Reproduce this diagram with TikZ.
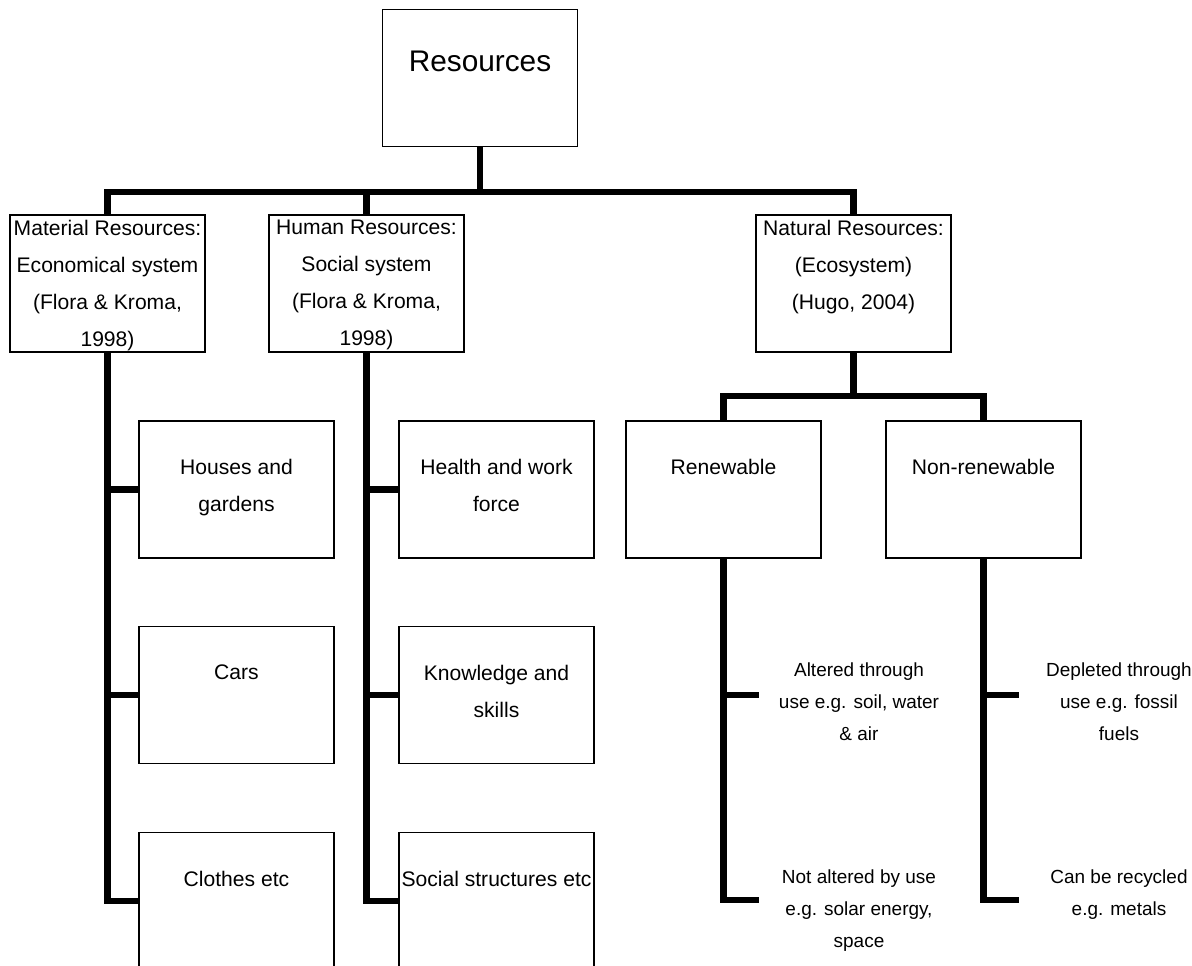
\documentclass[tikz,border=0pt]{standalone}
\usepackage{fontspec}
\setmainfont{Liberation Sans}
\usepackage{tikz}
\usepackage{xcolor}

\newcommand{\boxfont}{\fontsize{15}{26.3}\selectfont}
\newcommand{\leaffont}{\fontsize{13.5}{22.8}\selectfont}
\newcommand{\bigfont}{\fontsize{21.2}{25}\selectfont}

\tikzset{
  box/.style={draw, line width=1.2pt, minimum width=4.875cm, minimum height=3.425cm, inner sep=0pt},
  link/.style={line width=4.3pt},
  intext/.style={align=center, anchor=north, inner sep=0pt, font=\boxfont},
  leaf/.style={align=center, anchor=north, inner sep=0pt, font=\leaffont},
}

\begin{document}
\begin{tikzpicture}[x=0.025cm,y=-0.025cm]
\useasboundingbox (0,0) rectangle (1192,966);
\node[box, label={[intext, font=\bigfont, yshift=-1.04cm]north:Resources}] (res) at (480,78) {};
\node[box, label={[intext, yshift=-0.15cm]north:Material Resources:\\Economical system\\(Flora \& Kroma,\\1998)}] (mat) at (107.5,283.5) {};
\node[box, label={[intext, yshift=-0.15cm]north:Human Resources:\\Social system\\(Flora \& Kroma,\\1998)}] (hum) at (366.5,283.5) {};
\node[box, label={[intext, yshift=-0.15cm]north:Natural Resources:\\(Ecosystem)\\(Hugo, 2004)}] (nat) at (853.5,283.5) {};
\node[box, label={[intext, yshift=-0.975cm]north:Houses and\\gardens}] (houses) at (236.5,489.5) {};
\node[box, label={[intext, yshift=-0.975cm]north:Cars}] (cars) at (236.5,695) {};
\node[box, label={[intext, yshift=-0.975cm]north:Clothes etc}] (clothes) at (236.5,901) {};
\node[box, label={[intext, yshift=-0.975cm]north:Health and work\\force}] (health) at (496.5,489.5) {};
\node[box, label={[intext, yshift=-0.975cm]north:Knowledge and\\skills}] (skills) at (496.5,695) {};
\node[box, label={[intext, yshift=-0.975cm]north:Social structures etc}] (social) at (496.5,901) {};
\node[box, label={[intext, yshift=-0.975cm]north:Renewable}] (ren) at (723.5,489.5) {};
\node[box, label={[intext, yshift=-0.975cm]north:Non-renewable}] (nonren) at (983.5,489.5) {};
\node[leaf] (altered) at (859,662) {Altered through\\use e.g. soil, water\\\& air};
\node[leaf] (notaltered) at (859,869) {Not altered by use\\e.g. solar energy,\\space};
\node[leaf] (depleted) at (1119,662) {Depleted through\\use e.g. fossil\\fuels};
\node[leaf] (recycled) at (1119,869) {Can be recycled\\e.g. metals};
\coordinate (resbar) at (480,192);
\coordinate (natbar) at (853.5,396);
\coordinate (alteredend) at (759,695);
\coordinate (notalteredend) at (759,900);
\coordinate (depletedend) at (1019,695);
\coordinate (recycledend) at (1019,900);
\draw[link] (res.south) -- (resbar);
\draw[link] (mat.north) |- (resbar) -| (nat.north);
\draw[link] (hum.north) -- (hum.north |- resbar);
\draw[link] (mat.south) |- (clothes.west);
\draw[link] (mat.south |- houses.west) -- (houses.west);
\draw[link] (mat.south |- cars.west) -- (cars.west);
\draw[link] (hum.south) |- (social.west);
\draw[link] (hum.south |- health.west) -- (health.west);
\draw[link] (hum.south |- skills.west) -- (skills.west);
\draw[link] (nat.south) -- (natbar);
\draw[link] (ren.north) |- (natbar) -| (nonren.north);
\draw[link] (ren.south) |- (notalteredend);
\draw[link] (ren.south |- alteredend) -- (alteredend);
\draw[link] (nonren.south) |- (recycledend);
\draw[link] (nonren.south |- depletedend) -- (depletedend);
\end{tikzpicture}
\end{document}
